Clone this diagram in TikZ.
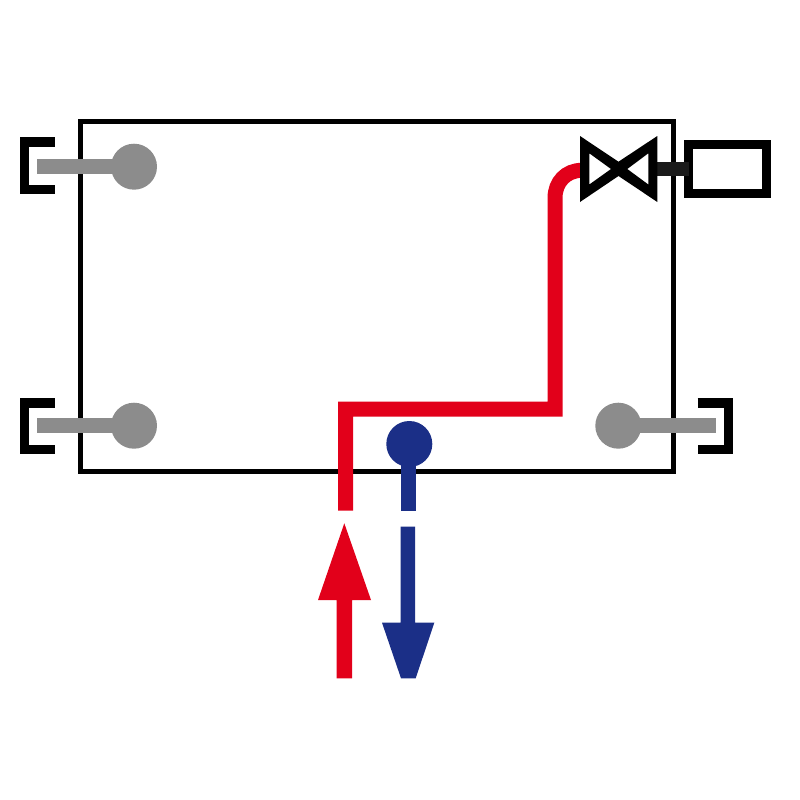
\documentclass[tikz,border=0pt]{standalone}
\definecolor{pipered}{HTML}{E2001A}
\definecolor{pipeblue}{HTML}{1B2F87}
\definecolor{rodgrey}{HTML}{8C8C8C}
\definecolor{stemdark}{HTML}{1A1A1A}
\tikzset{
  box/.style={draw=black,rectangle,inner sep=0pt,outer sep=0pt,anchor=center},
  ball/.style={circle,fill=#1,draw=none,minimum size=46pt,inner sep=0pt,outer sep=0pt},
  rod/.style={draw=rodgrey,line width=15pt},
  bracket/.style={draw=black,line width=9.3pt,miter limit=10},
  redpipe/.style={draw=pipered,line width=15pt,line join=miter},
  bluepipe/.style={draw=pipeblue,line width=15.5pt},
}
\begin{document}
\begin{tikzpicture}[x=1pt,y=-1pt]
\useasboundingbox (0,0) rectangle (800,800);
\fill[white] (0,0) rectangle (800,800);

% radiator
\node[box,line width=5pt,minimum width=593pt,minimum height=350.5pt] (radiator) at (376.5,296.25) {};

% wall brackets and grey rods
\coordinate (tlA) at (54.7,142);
\coordinate (tlB) at (24.65,142);
\coordinate (tlC) at (24.65,189.6);
\coordinate (tlD) at (54.7,189.6);
\draw[bracket] (tlA) -- (tlB) -- (tlC) -- (tlD);
\coordinate (blA) at (54.7,403);
\coordinate (blB) at (24.65,403);
\coordinate (blC) at (24.65,449.6);
\coordinate (blD) at (54.7,449.6);
\draw[bracket] (blA) -- (blB) -- (blC) -- (blD);
\coordinate (brA) at (697.7,403);
\coordinate (brB) at (728.65,403);
\coordinate (brC) at (728.65,449.6);
\coordinate (brD) at (697.7,449.6);
\draw[bracket] (brA) -- (brB) -- (brC) -- (brD);

\node[ball=rodgrey] (ballTL) at (134,166.7) {};
\node[ball=rodgrey] (ballBL) at (134,425.7) {};
\node[ball=rodgrey] (ballBR) at (618.3,425.7) {};
\coordinate (rodTL) at (37.3,166.7);
\coordinate (rodBL) at (37.3,425.7);
\coordinate (rodBR) at (715.7,425.7);
\draw[rod] (ballTL.center) -- (rodTL);
\draw[rod] (ballBL.center) -- (rodBL);
\draw[rod] (ballBR.center) -- (rodBR);

% actuator and stem
\node[box,line width=9.3pt,minimum width=77.7pt,minimum height=49pt] (actuator) at (727.5,169.2) {};
\coordinate (valveR) at (652,169);
\draw[draw=stemdark,line width=14.5pt] (valveR) -- (actuator.west |- valveR);

% red supply pipe
\coordinate (redEnd) at (345.7,510.7);
\coordinate (redA) at (345.7,409);
\coordinate (redB) at (555,409);
\coordinate (redC) at (555,198);
\coordinate (valveL) at (585,170.3);
\draw[redpipe] (redEnd) -- (redA) -- (redB) -- (redC) .. controls (555,182) and (566,170.3) .. (582,170.3) -- (valveL);

% valve
\fill[black,even odd rule]
  (580,136) -- (618.5,161.7) -- (657.3,136) -- (657.3,202) -- (618.5,176) -- (580,202) -- cycle
  (589.3,153.3) -- (611,169) -- (589.3,184.5) -- cycle
  (648.3,153.3) -- (627.3,169) -- (648.3,184.5) -- cycle;

% blue return pipe
\node[ball=pipeblue] (ballBlue) at (409.3,444) {};
\coordinate (blueEnd) at (408.3,510.7);
\draw[bluepipe] (ballBlue.center -| blueEnd) -- (blueEnd);

% flow arrows
\fill[pipered] (344.3,523.3) -- (371,600) -- (352,600) -- (352,678.3) -- (336.7,678.3) -- (336.7,600) -- (318,600) -- cycle;
\fill[pipeblue] (400.7,526.7) -- (415,526.7) -- (415,622.7) -- (434.3,622.7) -- (415.7,678.3) -- (401,678.3) -- (382,622.7) -- (400.7,622.7) -- cycle;
\end{tikzpicture}
\end{document}
